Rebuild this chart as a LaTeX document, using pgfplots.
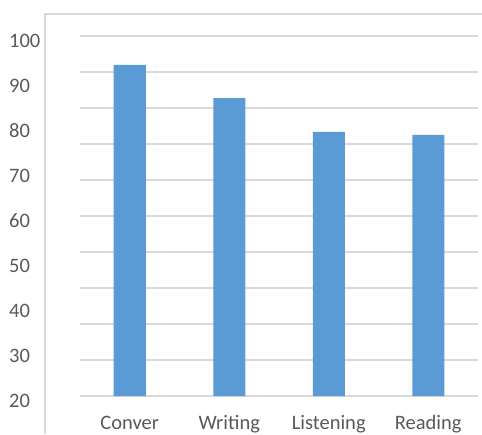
\documentclass[border=0pt]{standalone}
\usepackage{fontspec}
\setmainfont{Carlito}
\usepackage{pgfplots}
\pgfplotsset{compat=1.18}
\definecolor{barblue}{HTML}{5B9BD5}
\definecolor{gridgray}{HTML}{D9D9D9}
\definecolor{txtgray}{HTML}{595959}
\begin{document}
\begin{tikzpicture}[x=1pt,y=1pt]
\useasboundingbox (0,0) rectangle (482,434);
\draw[gridgray, line width=1.2pt] (45,0) -- (45,420) -- (482,420);
\begin{axis}[
  at={(80pt,38pt)}, anchor=south west,
  scale only axis, width=398pt, height=360pt,
  xmin=-0.5, xmax=3.5, ymin=20, ymax=100,
  xtick={0,1,2,3},
  xticklabels={Conver,Writing,Listening,Reading},
  ytick={20,30,...,100},
  minor ytick={20,28,...,100},
  yminorgrids=true, ymajorgrids=false,
  minor grid style={gridgray, line width=1.3pt},
  major tick length=0pt, minor tick length=0pt,
  axis line style={draw=none},
  /pgf/number format/assume math mode=true,
  tick label style={font=\fontsize{20.5}{24}\selectfont, text=txtgray},
  xticklabel style={anchor=base, inner sep=0pt, yshift=-33pt},
  yticklabel style={anchor=west, inner sep=0pt, xshift=-71pt, yshift=-5pt},
  clip=false,
]
\addplot[ybar, bar width=32pt, fill=barblue, draw=none] coordinates {
  (0,93.6) (1,86.2) (2,78.7) (3,78.0)
};
\end{axis}
\end{tikzpicture}
\end{document}
